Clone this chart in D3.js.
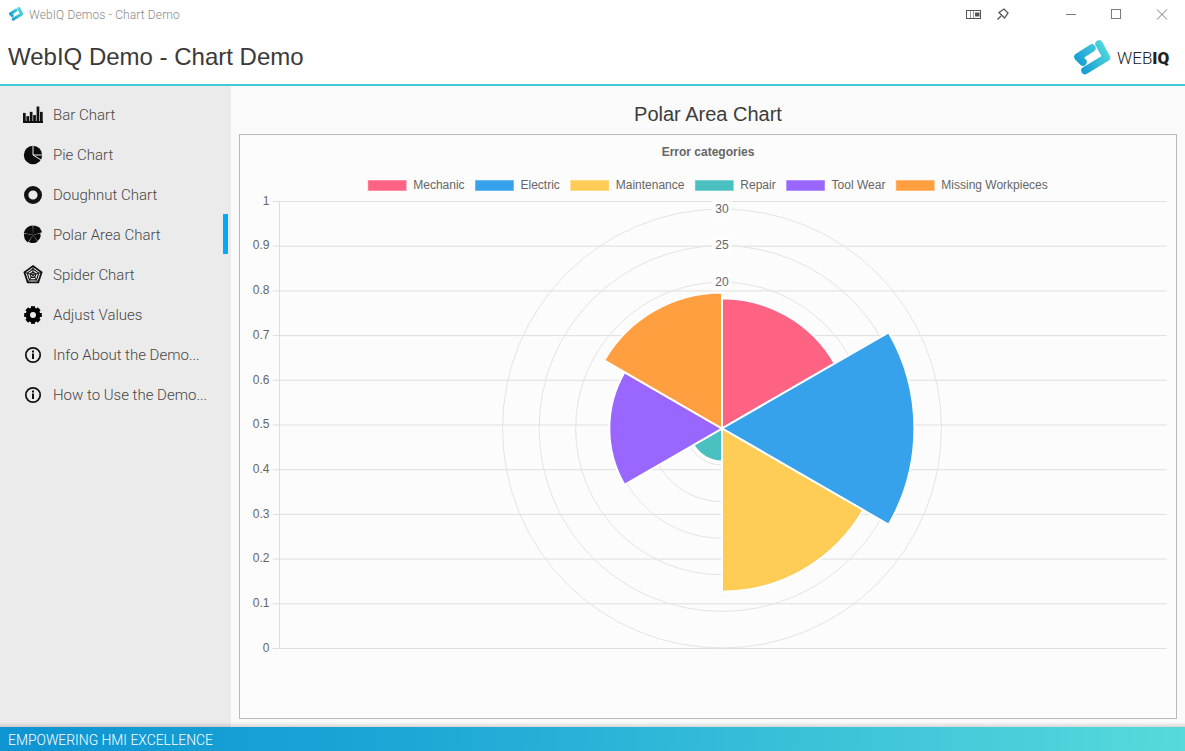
<!DOCTYPE html>
<html><head><meta charset="utf-8">
<script src="https://cdnjs.cloudflare.com/ajax/libs/d3/7.8.5/d3.min.js"></script>
<style>
html,body{margin:0;padding:0;background:#fff;overflow:hidden}
svg{display:block}
text{font-family:"Liberation Sans",Arial,sans-serif}
.nav{font-family:Roboto,sans-serif;font-weight:300;font-size:15px;fill:#474747}
</style></head><body>
<svg id="c" width="1185" height="751"></svg>
<script>
const categories=["Mechanic","Electric","Maintenance","Repair","Tool Wear","Missing Workpieces"];
const values=[17.8,26.3,22.3,4.5,15.4,18.6];
const colors=["#ff6384","#36a2eb","#ffcd56","#4bc0c0","#9966ff","#ff9f40"];
const radialTicks=[5,10,15,20,25,30];
const yTicks=[0,0.1,0.2,0.3,0.4,0.5,0.6,0.7,0.8,0.9,1];
const navItems=["Bar Chart","Pie Chart","Doughnut Chart","Polar Area Chart","Spider Chart","Adjust Values","Info About the Demo...","How to Use the Demo..."];
const barIcon=[8,5,9,6,14,9];
const pieIconCuts=[0,90,122];

const svg=d3.select("#c");
const defs=svg.append("defs");
const fg=defs.append("linearGradient").attr("id","foot");
fg.append("stop").attr("offset","0").attr("stop-color","#0e94d1");
fg.append("stop").attr("offset","0.35").attr("stop-color","#1ca7d6");
fg.append("stop").attr("offset","1").attr("stop-color","#56dadb");
const lg=defs.append("linearGradient").attr("id","logo").attr("gradientUnits","userSpaceOnUse")
  .attr("x1",-15).attr("y1",12).attr("x2",15).attr("y2",-8);
lg.append("stop").attr("offset","0").attr("stop-color","#0f96d3");
lg.append("stop").attr("offset","1").attr("stop-color","#4fd6dc");
const sh=defs.append("linearGradient").attr("id","shade").attr("x1",0).attr("y1",0).attr("x2",0).attr("y2",1);
sh.append("stop").attr("offset","0").attr("stop-color","#000").attr("stop-opacity",0);
sh.append("stop").attr("offset","1").attr("stop-color","#000").attr("stop-opacity",.14);

// page frame
svg.append("rect").attr("width",1185).attr("height",751).attr("fill","#fff");
svg.append("rect").attr("x",231).attr("y",86).attr("width",954).attr("height",641).attr("fill","#fafafa");
svg.append("rect").attr("x",0).attr("y",86).attr("width",231).attr("height",641).attr("fill","#ebebeb");
svg.append("rect").attr("x",0).attr("y",84).attr("width",1185).attr("height",2).attr("fill","#41c9d8");
svg.append("rect").attr("x",0).attr("y",722).attr("width",1185).attr("height",5).attr("fill","url(#shade)");
svg.append("rect").attr("x",0).attr("y",727).attr("width",1185).attr("height",24).attr("fill","url(#foot)");
svg.append("text").text("EMPOWERING HMI EXCELLENCE").attr("x",8).attr("y",745).attr("fill","#fff")
  .style("font-family","Roboto,sans-serif").style("font-weight",300).style("font-size","13.9px");

// title bar
function logo(x,y,s){
  const g=svg.append("g").attr("transform",`translate(${x},${y}) scale(${s})`)
    .attr("fill","none").attr("stroke","url(#logo)").attr("stroke-width",7.5).attr("stroke-linecap","round").attr("stroke-linejoin","round");
  g.append("path").attr("d","M0,-9.5 L-14,-0.5 L-9,4.5");
  g.append("path").attr("d","M7,-13.5 L14.5,0 L-7,13");
}
logo(16,14,.4);
svg.append("text").text("WebIQ Demos - Chart Demo").attr("x",29).attr("y",19).attr("fill","#8a8a8a")
  .style("font-family","Roboto,sans-serif").style("font-size","12px").style("font-weight",300).style("letter-spacing","0.12px");
const win=svg.append("g").attr("fill","none").attr("stroke","#7a7a7a");
win.append("line").attr("x1",1066).attr("x2",1076).attr("y1",14.5).attr("y2",14.5);
win.append("rect").attr("x",1111.5).attr("y",9.5).attr("width",9).attr("height",9);
win.append("path").attr("d","M1157 9.5L1167 19.5M1167 9.5L1157 19.5");
win.append("rect").attr("x",966.5).attr("y",10.5).attr("width",14).attr("height",8).attr("stroke","#555");
win.append("path").attr("d","M970.5 11V18M973.5 11V18").attr("stroke","#999");
win.append("rect").attr("x",975.5).attr("y",13).attr("width",3.5).attr("height",3).attr("fill","#555").attr("stroke","#555");
win.append("path").attr("d","M997.5 19.5L1001 16M999 12.5L1004 9L1008 13L1004.5 18Z").attr("stroke","#555").attr("stroke-width",1.3);

// header
svg.append("text").text("WebIQ Demo - Chart Demo").attr("x",8).attr("y",65).attr("fill","#3a3a3a").style("font-size","24px");
logo(1092,57.5,1);
const wq=svg.append("text").attr("x",1117).attr("y",63.5).attr("fill","#222").style("font-size","17px");
wq.append("tspan").text("WEB").style("font-family","Roboto,sans-serif").style("font-weight",300);
wq.append("tspan").text("IQ").style("font-family","Roboto,sans-serif").style("font-weight",900);

// sidebar
const navY=d3.scaleLinear().domain([0,1]).range([115,155]);
const navG=svg.append("g");
navItems.forEach((t,i)=>{
  navG.append("text").attr("class","nav").text(t).attr("x",53).attr("y",navY(i)+5);
  const ic=navG.append("g").attr("transform",`translate(33,${navY(i)})`);
  const arc=d3.arc();
  if(i===0){
    const h=d3.scaleLinear().domain([0,14]).range([0,15]);
    barIcon.forEach((v,k)=>ic.append("rect").attr("x",-10+k*3.4).attr("y",6.5-h(v)).attr("width",2.7).attr("height",h(v)).attr("fill","#111"));
    ic.append("rect").attr("x",-10).attr("y",6).attr("width",20).attr("height",2).attr("fill","#111");
  } else if(i===1){
    ic.append("circle").attr("r",9.2).attr("fill","#0c0c0c");
    pieIconCuts.forEach(a=>{const t=(a-90)*Math.PI/180;
      ic.append("line").attr("x2",10*Math.cos(t)).attr("y2",10*Math.sin(t)).attr("stroke","#ebebeb").attr("stroke-width",1);});
  } else if(i===2){
    ic.append("circle").attr("r",6.8).attr("fill","none").attr("stroke","#111").attr("stroke-width",4.4);
  } else if(i===3){
    [[0,1.3,9.5],[1.3,2.5,7.5],[2.5,3.7,8],[3.7,4.9,9],[4.9,6.28,9.5]].forEach(a=>
      ic.append("path").attr("d",arc({innerRadius:0,outerRadius:a[2],startAngle:a[0],endAngle:a[1],padAngle:.05})).attr("fill","#0c0c0c"));
  } else if(i===4){
    const pts=r=>d3.range(5).map(k=>{const a=-Math.PI/2+k*2*Math.PI/5;return [r*Math.cos(a),r*Math.sin(a)].join(",")}).join(" ");
    [9,6,3].forEach((r,k)=>ic.append("polygon").attr("points",pts(r)).attr("fill","none").attr("stroke","#111").attr("stroke-width",k?1.1:1.8));
    d3.range(5).forEach(k=>{const a=-Math.PI/2+k*2*Math.PI/5;
      ic.append("line").attr("x2",9*Math.cos(a)).attr("y2",9*Math.sin(a)).attr("stroke","#111").attr("stroke-width",.9);});
  } else if(i===5){
    ic.append("circle").attr("r",5.2).attr("fill","none").attr("stroke","#000").attr("stroke-width",4.4);
    d3.range(8).forEach(k=>ic.append("rect").attr("x",-2).attr("y",-8.8).attr("width",4).attr("height",4).attr("fill","#000").attr("transform",`rotate(${k*45})`));
  } else {
    ic.append("circle").attr("r",7.2).attr("fill","none").attr("stroke","#111").attr("stroke-width",1.7);
    ic.append("rect").attr("x",-1).attr("y",-1.5).attr("width",2).attr("height",5.5).attr("fill","#111");
    ic.append("rect").attr("x",-1).attr("y",-4.5).attr("width",2).attr("height",2).attr("fill","#111");
  }
});
svg.append("rect").attr("x",223).attr("y",214).attr("width",5).attr("height",40).attr("fill","#03a9f4");

// chart panel
svg.append("text").text("Polar Area Chart").attr("x",708).attr("y",121).attr("text-anchor","middle").attr("fill","#3d3d3d").style("font-size","20px");
svg.append("rect").attr("x",239.5).attr("y",134.5).attr("width",937).attr("height",584).attr("fill","#fcfcfc").attr("stroke","#b9b9b9");
svg.append("text").text("Error categories").attr("x",708).attr("y",156).attr("text-anchor","middle").attr("fill","#666").style("font-size","12px").style("font-weight","bold");

// legend
const boxW=38, textGap=7, itemGap=10.9;
const lgG=svg.append("g");
const items=categories.map((c,i)=>{
  const g=lgG.append("g");
  g.append("rect").attr("y",180.5).attr("width",boxW).attr("height",10).attr("fill",colors[i]).attr("stroke",colors[i]).attr("stroke-opacity",.45);
  const t=g.append("text").text(c).attr("x",boxW+textGap).attr("y",189).attr("fill","#666").style("font-size","12px");
  return {g,w:boxW+textGap+t.node().getComputedTextLength()};
});
const total=d3.sum(items,d=>d.w)+itemGap*(items.length-1);
let lx=708-total/2;
items.forEach(d=>{d.g.attr("transform",`translate(${lx},0)`);lx+=d.w+itemGap;});

// cartesian axes
const xLeft=279,xRight=1166;
const y=d3.scaleLinear().domain([0,1]).range([648,201]);
const yAxis=d3.axisLeft(y).tickValues(yTicks).tickSize(7).tickPadding(3).tickFormat(d3.format("~g"));
const ag=svg.append("g").attr("transform",`translate(${xLeft+.5},0)`).call(yAxis);
ag.select(".domain").attr("d",`M0,${y(1)+.5}V${y(0)+.5}`).attr("stroke","#dfdfdf");
ag.selectAll(".tick line").attr("x1",-7).attr("x2",xRight-xLeft).attr("stroke","#dfdfdf");
ag.selectAll("text").attr("fill","#666").attr("dy","0.27em").style("fill","#666").style("font-size","12px").style("font-family","'Liberation Sans'");

// radial scale
const cx=722,cy=428.5;
const r=d3.scaleLinear().domain([0,30]).range([0,219.5]);
const rg=svg.append("g").attr("transform",`translate(${cx},${cy})`);
rg.selectAll("circle.ring").data(radialTicks).join("circle").attr("class","ring").attr("r",d=>r(d))
  .attr("fill","none").attr("stroke","#e4e4e4");
const lab=rg.selectAll("g.rt").data(radialTicks.filter(d=>d>=20)).join("g").attr("class","rt").attr("transform",d=>`translate(0,${-r(d)})`);
lab.append("rect").attr("x",-10).attr("y",-8).attr("width",20).attr("height",16).attr("fill","#fff").attr("fill-opacity",.75);
lab.append("text").text(d=>d).attr("text-anchor","middle").attr("dy","0.3em").attr("fill","#666").style("font-size","12px");

// wedges
const step=2*Math.PI/categories.length;
const arcGen=d3.arc().innerRadius(0);
rg.selectAll("path.w").data(values).join("path").attr("class","w")
  .attr("d",(d,i)=>arcGen({outerRadius:r(d),startAngle:i*step,endAngle:(i+1)*step}))
  .attr("fill",(d,i)=>colors[i]).attr("stroke","#fff").attr("stroke-width",2);
</script></body></html>
